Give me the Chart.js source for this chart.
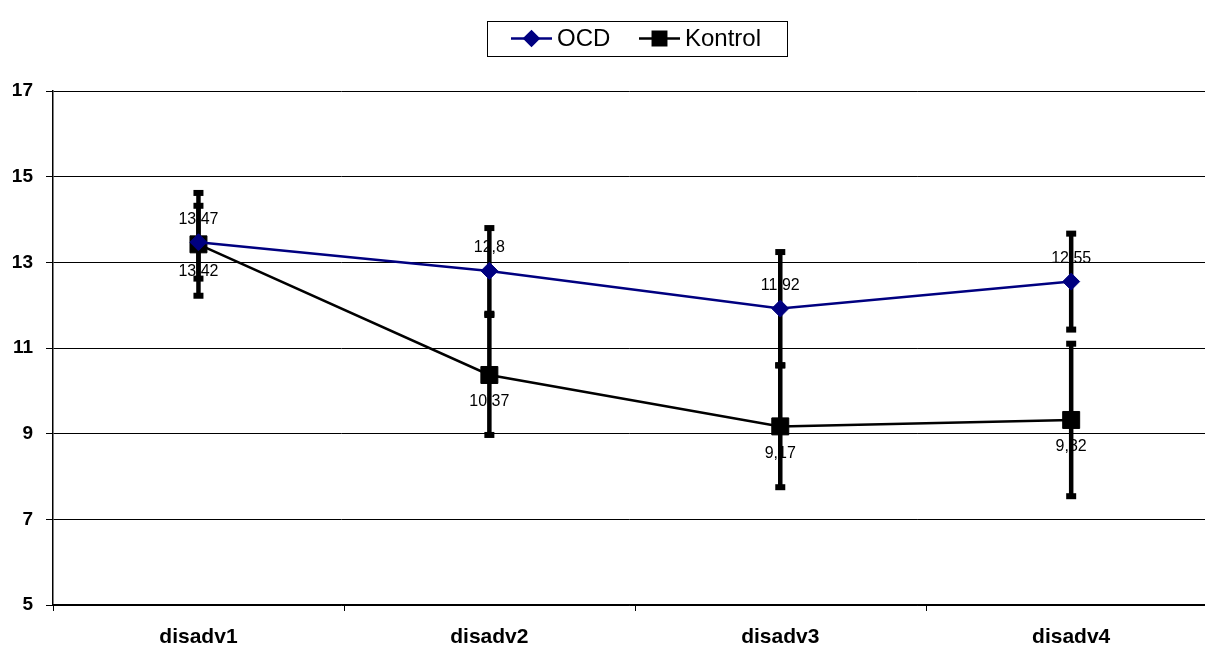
<!DOCTYPE html>
<html>
<head>
<meta charset="utf-8">
<script src="https://cdn.jsdelivr.net/npm/chart.js@4/dist/chart.umd.min.js"></script>
<style>
  html, body { margin: 0; padding: 0; background: #fff; overflow: hidden; }
  #chart { display: block; }
</style>
</head>
<body>
<canvas id="chart" width="1205" height="650"></canvas>
<script>
const categories = ["disadv1", "disadv2", "disadv3", "disadv4"];
const ocdValues = [13.47, 12.8, 11.92, 12.55];
const ocdErrors = [0.85, 1.0, 1.32, 1.12];
const kontrolValues = [13.42, 10.37, 9.17, 9.32];
const kontrolErrors = [1.2, 1.4, 1.42, 1.78];
const yTicks = [5, 7, 9, 11, 13, 15, 17];

const FONT = "'Liberation Sans', Arial, sans-serif";
// the original plot is cut off at the right edge, so the x range stops short of 4
const X_MAX = 3.96;

const toPoints = (vals) => vals.map((v, i) => ({ x: i + 0.5, y: v }));

// error bars, drawn before the lines so markers sit on top
const errorBars = {
  id: "errorBars",
  beforeDatasetsDraw(chart) {
    const ctx = chart.ctx;
    const y = chart.scales.y;
    ctx.save();
    ctx.strokeStyle = "#000";
    ctx.fillStyle = "#000";
    ctx.lineWidth = 4.5;
    chart.data.datasets.forEach((ds) => {
      ds.data.forEach((p, i) => {
        const px = chart.scales.x.getPixelForValue(p.x);
        const top = y.getPixelForValue(p.y + ds.errors[i]);
        const bot = y.getPixelForValue(p.y - ds.errors[i]);
        ctx.beginPath();
        ctx.moveTo(px, top);
        ctx.lineTo(px, bot);
        ctx.stroke();
        ctx.fillRect(px - 5, top - 3, 10, 6);
        ctx.fillRect(px - 5, bot - 3, 10, 6);
      });
    });
    ctx.restore();
  }
};

// value labels with comma decimals, OCD above, Kontrol below
const valueLabels = {
  id: "valueLabels",
  afterDatasetsDraw(chart) {
    const ctx = chart.ctx;
    ctx.save();
    ctx.font = "16px " + FONT;
    ctx.fillStyle = "#000";
    ctx.textAlign = "center";
    ctx.textBaseline = "middle";
    chart.data.datasets.forEach((ds, di) => {
      const meta = chart.getDatasetMeta(di);
      meta.data.forEach((pt, i) => {
        const txt = String(ds.data[i].y).replace(".", ",");
        const dy = ds.labelPos === "top" ? -23 : 27;
        ctx.fillText(txt, pt.x, pt.y + dy);
      });
    });
    ctx.restore();
  }
};

// tick marks on the category boundaries of the x axis
const boundaryTicks = {
  id: "boundaryTicks",
  afterDraw(chart) {
    const ctx = chart.ctx;
    const x = chart.scales.x;
    const bottom = chart.chartArea.bottom;
    ctx.save();
    ctx.strokeStyle = "#000";
    ctx.lineWidth = 1;
    for (let i = 0; i <= categories.length; i++) {
      const px = Math.round(x.getPixelForValue(i)) + 0.5;
      if (px > chart.chartArea.right) break;
      ctx.beginPath();
      ctx.moveTo(px, bottom);
      ctx.lineTo(px, bottom + 6);
      ctx.stroke();
    }
    ctx.restore();
  }
};

// boxed legend with line + marker samples
const boxLegend = {
  id: "boxLegend",
  afterDraw(chart) {
    const ctx = chart.ctx;
    const cy = 38.5;
    ctx.save();
    ctx.strokeStyle = "#000";
    ctx.lineWidth = 1;
    ctx.strokeRect(487.5, 21.5, 300, 35);
    ctx.font = "24px " + FONT;
    ctx.textBaseline = "middle";
    ctx.textAlign = "left";
    const starts = [511, 639];
    chart.data.datasets.forEach((ds, i) => {
      const x0 = starts[i];
      ctx.strokeStyle = ds.borderColor;
      ctx.lineWidth = 2.5;
      ctx.beginPath();
      ctx.moveTo(x0, cy);
      ctx.lineTo(x0 + 41, cy);
      ctx.stroke();
      ctx.fillStyle = ds.borderColor;
      ctx.strokeStyle = ds.borderColor;
      Chart.helpers.drawPoint(ctx, {
        pointStyle: ds.pointStyle,
        radius: ds.pointStyle === "rect" ? 9.5 : 7,
        rotation: 0,
        borderWidth: 1
      }, x0 + 20.5, cy);
      ctx.fillStyle = "#000";
      ctx.fillText(ds.label, x0 + 46, cy + 1);
    });
    ctx.restore();
  }
};

new Chart(document.getElementById("chart"), {
  type: "line",
  data: {
    datasets: [
      {
        label: "OCD",
        data: toPoints(ocdValues),
        errors: ocdErrors,
        labelPos: "top",
        borderColor: "#000080",
        backgroundColor: "#000080",
        borderWidth: 2.5,
        pointStyle: "rectRot",
        pointRadius: 8.5,
        pointBorderWidth: 1,
        tension: 0
      },
      {
        label: "Kontrol",
        data: toPoints(kontrolValues),
        errors: kontrolErrors,
        labelPos: "bottom",
        borderColor: "#000",
        backgroundColor: "#000",
        borderWidth: 2.5,
        pointStyle: "rect",
        pointRadius: 12,
        pointBorderWidth: 1,
        tension: 0
      }
    ]
  },
  options: {
    responsive: false,
    animation: false,
    layout: { autoPadding: false, padding: { top: 91, right: 0, bottom: 0, left: 0 } },
    plugins: {
      legend: { display: false },
      tooltip: { enabled: false }
    },
    scales: {
      x: {
        type: "linear",
        min: 0,
        max: X_MAX,
        afterBuildTicks(scale) {
          scale.ticks = categories.map((c, i) => ({ value: i + 0.5 }));
        },
        grid: { drawOnChartArea: false, drawTicks: false },
        border: { color: "#000", width: 1.5 },
        ticks: {
          color: "#000",
          padding: 20,
          maxRotation: 0,
          autoSkip: false,
          callback: (v, i) => categories[i],
          font: { family: FONT, size: 21, weight: "bold" }
        },
        afterFit(scale) { scale.height = 45; }
      },
      y: {
        min: 5,
        max: 17,
        afterBuildTicks(scale) {
          scale.ticks = yTicks.map((v) => ({ value: v }));
        },
        grid: { color: "#000", lineWidth: 1, tickLength: 7 },
        border: { color: "#000", width: 1.5 },
        ticks: {
          color: "#000",
          padding: 13,
          font: { family: FONT, size: 19, weight: "bold" }
        },
        afterFit(scale) { scale.width = 53; }
      }
    }
  },
  plugins: [errorBars, valueLabels, boundaryTicks, boxLegend]
});
</script>
</body>
</html>
